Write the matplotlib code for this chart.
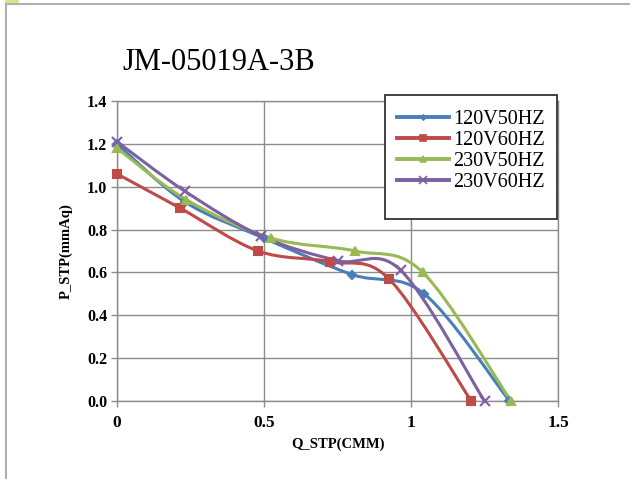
import matplotlib
matplotlib.use("Agg")
import matplotlib.pyplot as plt
from matplotlib.path import Path
from matplotlib.patches import PathPatch
from matplotlib.lines import Line2D
import numpy as np

title = "JM-05019A-3B"
series_names = ["120V50HZ", "120V60HZ", "230V50HZ", "230V60HZ"]
q_120v50 = [0.0, 0.23, 0.50, 0.80, 1.045, 1.335]
p_120v50 = [1.20, 0.93, 0.76, 0.59, 0.50, 0.0]
q_120v60 = [0.0, 0.215, 0.48, 0.725, 0.925, 1.205]
p_120v60 = [1.06, 0.90, 0.70, 0.65, 0.57, 0.0]
q_230v50 = [0.0, 0.235, 0.525, 0.81, 1.04, 1.34]
p_230v50 = [1.18, 0.94, 0.76, 0.70, 0.60, 0.0]
q_230v60 = [0.0, 0.23, 0.49, 0.75, 0.965, 1.25]
p_230v60 = [1.21, 0.98, 0.77, 0.655, 0.61, 0.0]
x_ticks = [0, 0.5, 1, 1.5]
x_tick_labels = ["0", "0.5", "1", "1.5"]
y_ticks = [0.0, 0.2, 0.4, 0.6, 0.8, 1.0, 1.2, 1.4]

colors = ["#4a7ebb", "#be4b48", "#98b954", "#7d60a0"]
markers = ["D", "s", "^", "x"]
msizes = [4, 6, 6, 7]

serif = ["Liberation Serif", "DejaVu Serif"]
plt.rcParams["font.family"] = serif

fig = plt.figure(figsize=(6.3, 4.79), dpi=100)
# page frame
fig.add_artist(Line2D([5.5/630, 1], [1 - 3.5/479, 1 - 3.5/479], transform=fig.transFigure, color="#b0b0b0", lw=1.5))
fig.add_artist(Line2D([5.5/630, 5.5/630], [0, 1 - 3.5/479], transform=fig.transFigure, color="#b0b0b0", lw=1.5))
fig.add_artist(plt.Rectangle((5/630, 1 - 2.5/479), 14/630, 2.5/479, transform=fig.transFigure, color="#d4e88a", lw=0))

ax = fig.add_axes([117/630, 1 - 401/479, 441/630, 300/479])


def smooth_path(xs, ys):
    xs = np.asarray(xs, float)
    ys = np.asarray(ys, float)
    n = len(xs)
    verts = [(xs[0], ys[0])]
    codes = [Path.MOVETO]
    t = 1.0 / 6.0
    for i in range(n - 1):
        i0 = max(i - 1, 0)
        i3 = min(i + 2, n - 1)
        c1 = (xs[i] + (xs[i + 1] - xs[i0]) * t, ys[i] + (ys[i + 1] - ys[i0]) * t)
        c2 = (xs[i + 1] - (xs[i3] - xs[i]) * t, ys[i + 1] - (ys[i3] - ys[i]) * t)
        verts += [c1, c2, (xs[i + 1], ys[i + 1])]
        codes += [Path.CURVE4] * 3
    return Path(verts, codes)


data = [(q_120v50, p_120v50), (q_120v60, p_120v60), (q_230v50, p_230v50), (q_230v60, p_230v60)]
handles = []
for (qx, py), c, m, ms, name in zip(data, colors, markers, msizes, series_names):
    ax.add_patch(PathPatch(smooth_path(qx, py), facecolor="none", edgecolor=c, lw=2.2, zorder=3, clip_on=False))
    ax.plot(qx, py, linestyle="none", marker=m, color=c, ms=ms, mew=1.5, zorder=4, clip_on=False)
    handles.append(Line2D([], [], color=c, lw=2.8, marker=m, ms=ms - 1.5, mew=1.2, label=name))

ax.set_xlim(0, 1.5)
ax.set_ylim(0, 1.4)
ax.set_xticks(x_ticks)
ax.set_xticklabels(x_tick_labels)
ax.set_yticks(y_ticks)
ax.set_yticklabels([f"{v:.1f}" for v in y_ticks])
ax.grid(True, color="#8c8c8c", lw=1.0)
ax.set_axisbelow(True)
for s in ax.spines.values():
    s.set_color("#8c8c8c")
    s.set_linewidth(1.0)
ax.tick_params(direction="out", length=4, width=1, color="#8c8c8c")
ax.tick_params(axis="y", labelsize=11.5, pad=3)
ax.tick_params(axis="x", labelsize=12.5, pad=6)
for lab in ax.get_xticklabels() + ax.get_yticklabels():
    lab.set_fontweight("bold")
ax.set_xlabel("Q_STP(CMM)", fontsize=10.5, fontweight="bold", labelpad=5)
ax.set_ylabel("P_STP(mmAq)", fontsize=10.5, fontweight="bold", labelpad=10)

fig.text(122/630, 1 - 62/479, title, fontsize=22, ha="left", va="center")

# legend box (frame drawn separately, taller than entries as in the reference)
box = plt.Rectangle((384.5/630, 1 - 219/479), 172.5/630, 124/479, transform=fig.transFigure,
                    facecolor="white", edgecolor="#333333", lw=1.3, zorder=5, clip_on=False)
ax.add_artist(box)
leg = ax.legend(handles=handles, loc="upper left", bbox_to_anchor=(397/630, 1 - 110/479),
                bbox_transform=fig.transFigure, fontsize=14.5, frameon=False,
                borderpad=0, labelspacing=0.1, handlelength=2.6, handletextpad=0.2,
                borderaxespad=0)
leg.set_zorder(6)

fig.savefig("out.png", dpi=100)
